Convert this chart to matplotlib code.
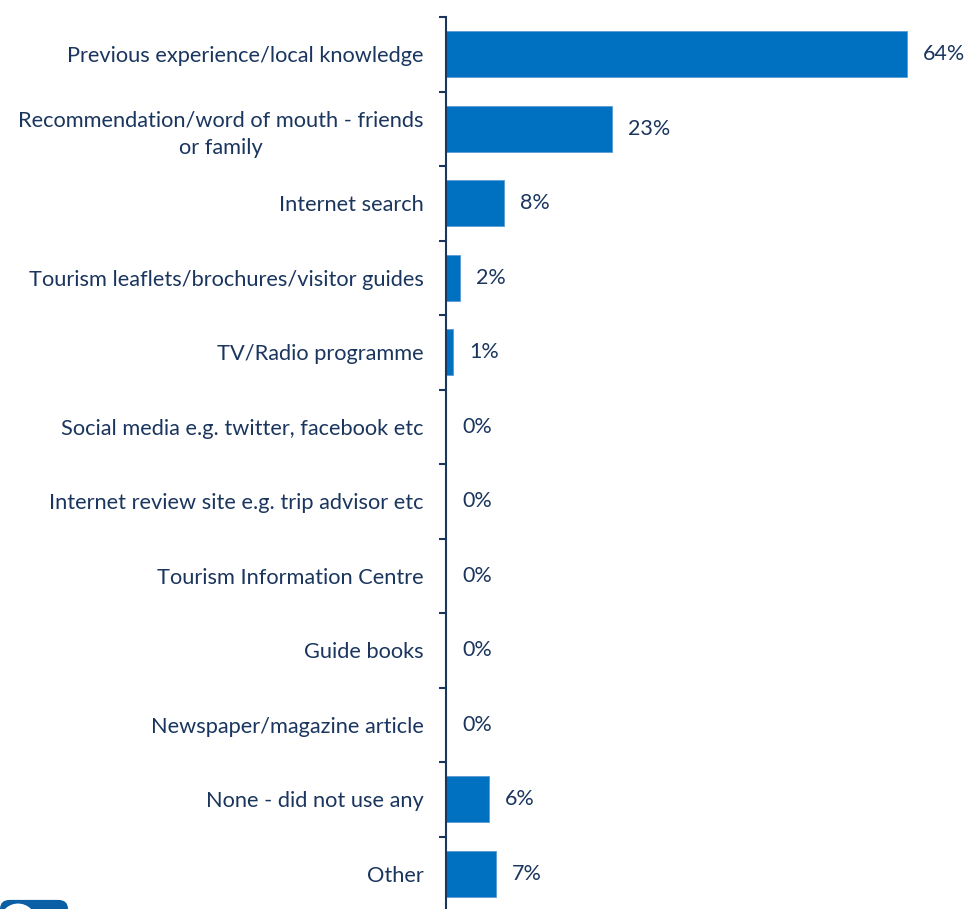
import matplotlib.pyplot as plt
from matplotlib.patches import FancyBboxPatch, Circle

categories = [
    "Previous experience/local knowledge",
    "Recommendation/word of mouth - friends\nor family",
    "Internet search",
    "Tourism leaflets/brochures/visitor guides",
    "TV/Radio programme",
    "Social media e.g. twitter, facebook etc",
    "Internet review site e.g. trip advisor etc",
    "Tourism Information Centre",
    "Guide books",
    "Newspaper/magazine article",
    "None - did not use any",
    "Other",
]
values = [64, 23, 8, 2, 1, 0, 0, 0, 0, 0, 6, 7]

bar_color = "#0070C0"
text_color = "#1A355E"

plt.rcParams['font.family'] = ['Lato', 'DejaVu Sans']

fig = plt.figure(figsize=(9.68, 9.09), dpi=100)
ax = fig.add_axes([446 / 968, -2 / 909, 1 - 446 / 968, 894 / 909])

pos = list(range(len(categories)))
ax.barh(pos, values, height=0.62, color=bar_color, edgecolor="#5B9BD5", linewidth=0.6)

for y, v in zip(pos, values):
    ax.annotate(f"{v}%", xy=(v, y), xytext=(11.5, 0), textcoords="offset points",
                va="center", ha="left", fontsize=15.5, color=text_color)

ax.set_xlim(0, 72.5)
ax.set_ylim(len(categories) - 0.5, -0.5)

ax.set_yticks(pos)
ax.set_yticklabels(categories, fontsize=15.7, color=text_color,
                   multialignment="center", linespacing=1.45)
ax.tick_params(axis="y", which="major", length=0, pad=16)
ax.set_yticks([p - 0.5 for p in pos] + [len(pos) - 0.5], minor=True)
ax.tick_params(axis="y", which="minor", length=5, width=1.5, color=text_color, direction="out")
ax.set_xticks([])

for side in ("top", "right", "bottom"):
    ax.spines[side].set_visible(False)
ax.spines["left"].set_color(text_color)
ax.spines["left"].set_linewidth(1.5)

# small logo badge peeking in at the bottom-left corner
badge = FancyBboxPatch((0.0, -0.02), 68 / 968, 0.03, boxstyle="round,pad=0,rounding_size=0.01",
                       transform=fig.transFigure, facecolor="#0B5FA5", edgecolor="none")
fig.patches.append(badge)
fig.patches.append(Circle((18 / 968, -0.012), 0.018, transform=fig.transFigure,
                          facecolor="white", edgecolor="none"))

fig.savefig("out.png", dpi=100)
